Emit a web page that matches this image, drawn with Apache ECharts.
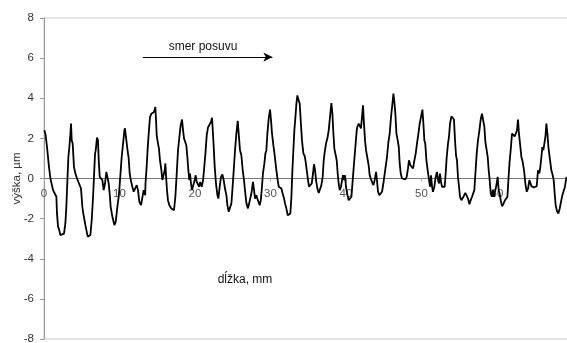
<!DOCTYPE html>
<html>
<head>
<meta charset="utf-8">
<script src="https://cdn.jsdelivr.net/npm/echarts@6/dist/echarts.min.js"></script>
<style>
  html, body { margin: 0; padding: 0; background: #fff; }
  #chart { width: 567px; height: 343px; }
</style>
</head>
<body>
<div id="chart"></div>
<script>
// Surface profile: position along the sample (mm) and measured height (µm)
const distanceMm = [
  0.05, 0.2, 0.4, 0.66, 0.85, 1.0, 1.2, 1.46, 1.64, 1.72, 1.86, 2.0, 2.17, 2.43, 2.65, 2.83, 2.96, 3.1, 3.23, 3.36,
  3.5, 3.58, 3.67, 3.8, 3.97, 4.16, 4.37, 4.64, 4.9, 5.08, 5.2, 5.52, 5.79, 5.96, 6.14, 6.32, 6.5, 6.62, 6.76, 6.85,
  7.02, 7.15, 7.25, 7.38, 7.55, 7.73, 7.9, 8.08, 8.26, 8.44, 8.57, 8.7, 8.83, 9.06, 9.32, 9.5, 9.72, 9.94, 10.1, 10.29,
  10.47, 10.65, 10.72, 10.91, 11.09, 11.2, 11.35, 11.5, 11.7, 11.88, 12.1, 12.28, 12.45, 12.63, 12.85, 13.0, 13.2, 13.4, 13.45, 13.6,
  13.75, 13.9, 14.04, 14.22, 14.4, 14.57, 14.75, 14.84, 14.93, 15.1, 15.23, 15.36, 15.55, 15.68, 15.8, 15.99, 16.08, 16.17, 16.29, 16.42,
  16.6, 16.7, 16.87, 17.1, 17.22, 17.4, 17.58, 17.75, 17.93, 18.1, 18.28, 18.42, 18.55, 18.72, 18.85, 18.99, 19.12, 19.25, 19.34, 19.47,
  19.6, 19.78, 19.96, 20.09, 20.23, 20.36, 20.53, 20.7, 20.89, 21.07, 21.19, 21.38, 21.55, 21.72, 21.95, 22.12, 22.25, 22.34, 22.48, 22.61,
  22.78, 22.97, 23.1, 23.27, 23.45, 23.63, 23.8, 23.97, 24.16, 24.29, 24.46, 24.64, 24.82, 24.95, 25.13, 25.3, 25.48, 25.66, 25.79, 25.96,
  26.14, 26.32, 26.49, 26.62, 26.81, 27.02, 27.2, 27.47, 27.68, 27.82, 27.95, 28.13, 28.25, 28.44, 28.57, 28.72, 28.87, 29.0, 29.19, 29.32,
  29.45, 29.59, 29.76, 29.94, 30.07, 30.2, 30.38, 30.5, 30.63, 30.78, 30.95, 31.09, 31.26, 31.44, 31.61, 31.8, 31.92, 32.1, 32.28, 32.45,
  32.63, 32.77, 32.9, 33.03, 33.16, 33.3, 33.43, 33.56, 33.73, 33.87, 34.0, 34.17, 34.36, 34.53, 34.66, 34.8, 34.97, 35.1, 35.28, 35.46,
  35.63, 35.76, 35.9, 36.03, 36.21, 36.39, 36.57, 36.74, 36.91, 37.05, 37.18, 37.35, 37.53, 37.71, 37.88, 38.06, 38.2, 38.33, 38.46, 38.64,
  38.77, 38.9, 39.03, 39.17, 39.34, 39.48, 39.6, 39.74, 39.87, 40.0, 40.19, 40.36, 40.53, 40.72, 40.89, 41.06, 41.24, 41.42, 41.5, 41.68,
  41.85, 41.98, 42.12, 42.25, 42.38, 42.52, 42.65, 42.83, 43.0, 43.14, 43.27, 43.45, 43.63, 43.8, 43.98, 44.1, 44.24, 44.42, 44.6, 44.77,
  44.95, 45.13, 45.3, 45.43, 45.62, 45.79, 45.96, 46.15, 46.28, 46.41, 46.54, 46.68, 46.85, 46.99, 47.11, 47.25, 47.42, 47.64, 47.86, 48.04,
  48.21, 48.34, 48.53, 48.7, 48.88, 49.06, 49.23, 49.4, 49.59, 49.76, 49.93, 50.12, 50.25, 50.38, 50.5, 50.65, 50.82, 51.0, 51.13, 51.26,
  51.4, 51.52, 51.7, 51.88, 52.05, 52.19, 52.32, 52.45, 52.58, 52.72, 52.9, 53.07, 53.2, 53.34, 53.51, 53.64, 53.78, 53.96, 54.13, 54.3,
  54.44, 54.57, 54.7, 54.83, 54.97, 55.1, 55.28, 55.5, 55.81, 55.99, 56.16, 56.34, 56.52, 56.69, 56.87, 57.0, 57.14, 57.31, 57.48, 57.67,
  57.84, 58.01, 58.2, 58.33, 58.46, 58.63, 58.77, 58.9, 59.03, 59.17, 59.34, 59.47, 59.6, 59.78, 59.92, 60.09, 60.22, 60.35, 60.49, 60.66,
  60.84, 61.02, 61.19, 61.38, 61.51, 61.65, 61.81, 61.99, 62.17, 62.34, 62.52, 62.65, 62.78, 62.91, 63.05, 63.23, 63.4, 63.58, 63.76, 63.93,
  64.11, 64.29, 64.42, 64.56, 64.73, 64.9, 65.08, 65.26, 65.43, 65.61, 65.74, 65.88, 66.01, 66.14, 66.28, 66.41, 66.54, 66.68, 66.81, 66.94,
  67.07, 67.2, 67.38, 67.51, 67.64, 67.77, 67.95, 68.13, 68.31, 68.48, 68.66, 68.84, 69.0, 69.2
];

const heightUm = [
  2.4, 2.2, 1.57, 0.58, 0, -0.25, -0.58, -0.6, -0.91, -1.74, -2.4, -2.55, -2.82, -2.87, -2.75, -2.24, -1.41, -0.08, 1.07, 1.57,
  2.24, 2.74, 1.9, 1.74, 0.58, 0.25, 0, -0.25, -0.5, -1.41, -1.74, -2.4, -2.9, -2.99, -2.82, -2.07, -0.91, 0.08, 1.24, 1.4,
  2.04, 1.9, 0.91, 0.08, 0, -0.08, -0.58, -0.25, 0.33, 0.35, -0.25, -0.75, -1.41, -1.91, -2.32, -2.16, -1.41, -0.75, 0.08, 1.07,
  1.74, 2.4, 2.5, 1.9, 1.32, 1.07, 0.25, -0.08, -0.41, -0.66, -0.66, -0.33, -0.58, -1.16, -1.33, -1.24, -0.58, -0.83, -0.2, 0.6,
  1.6, 2.4, 3.06, 3.23, 3.15, 3.31, 3.56, 2.9, 2.15, 1.74, 1.49, 0.91, 0.41, -0.08, 0, 0.41, 0.75, 0.08, -0.58, -1.08,
  -1.33, -1.24, -1.49, -1.49, -1.58, -0.91, 0.25, 1.41, 2.07, 2.65, 2.94, 2.4, 1.99, 1.94, 1.66, 1.07, 0.41, -0.08, 0.25, -0.25,
  -0.58, -0.33, -0.08, 0.16, -0.17, -0.08, -0.41, -0.17, -0.41, -0.08, 0.41, 1.24, 2.15, 2.54, 2.6, 2.82, 3.03, 2.5, 1.57, 0.58,
  -0.25, -0.83, -1.0, -0.41, 0.08, 0.2, -0.08, -0.5, -0.83, -1.33, -1.66, -1.58, -1.24, -0.58, 0.41, 1.41, 2.24, 2.87, 2.24, 1.41,
  1.16, 0.41, -0.08, -0.58, -1.24, -1.49, -1.49, -0.75, -0.17, -0.58, -1.0, -0.83, -1.0, -0.91, -1.33, -1.08, -0.41, 0.25, 0.75, 1.24,
  1.4, 2.24, 2.99, 3.43, 2.9, 2.24, 1.66, 1.32, 1.27, 0.41, -0.08, -0.41, -0.45, -0.5, -0.75, -1.0, -1.24, -1.49, -1.83, -1.91,
  -1.74, -0.91, 0.41, 1.41, 2.4, 3.06, 3.73, 4.14, 3.9, 3.73, 2.9, 1.9, 1.24, 1.12, 0.83, 0.41, -0.08, -0.41, -0.38, -0.25,
  0.25, 0.71, 0.41, -0.08, -0.5, -0.72, -0.66, -0.33, 0.08, 0.91, 1.32, 1.74, 1.99, 2.4, 3.06, 3.76, 3.23, 2.24, 1.49, 1.4,
  0.91, 0.25, -0.25, -0.58, -0.41, -0.08, 0.16, -0.08, 0.16, -0.41, -0.83, -1.08, -1.16, -0.91, -0.08, 0.75, 1.57, 2.4, 2.57, 2.74,
  2.77, 2.5, 3.06, 3.65, 2.74, 1.9, 1.41, 1.32, 0.66, 0.16, 0, -0.17, -0.33, -0.08, 0.33, -0.08, -0.66, -0.83, -0.83, -0.66,
  -0.25, 0.25, 0.33, 1.07, 1.82, 2.24, 3.06, 3.73, 4.23, 3.81, 3.23, 2.24, 1.9, 1.57, 0.75, 0.25, 0, 0, -0.04, 0.08,
  0.5, 0.91, 0.66, 0.58, 0.5, 0.91, 1.24, 1.74, 2.24, 2.74, 3.06, 3.43, 2.74, 1.9, 1.74, 0.91, 0.41, -0.08, -0.41, 0.16,
  -0.41, -0.66, -0.41, 0.08, 0.33, -0.08, -0.25, 0.25, -0.17, -0.41, -0.5, -0.41, 0.25, 1.07, 1.74, 2.07, 2.74, 3.1, 3.06, 2.94,
  1.9, 1.16, 0.91, 0.08, -0.41, -0.91, -1.08, -0.95, -0.72, -0.75, -1.0, -1.28, -1.08, -0.91, -1.0, -0.58, 0.25, 1.24, 1.9, 2.4,
  2.94, 3.23, 3.31, 2.57, 1.82, 1.41, 1.07, 0.41, -0.08, -0.75, -0.91, -0.58, -0.91, -0.58, -0.33, 0.08, -0.58, -0.75, -1.08, -1.38,
  -1.28, -1.11, -1.08, -0.91, -0.08, 0.75, 1.41, 2.24, 2.15, 2.1, 2.27, 2.4, 2.94, 2.24, 1.74, 1.07, 0.83, 0.41, -0.25, -0.66,
  -0.5, -0.08, 0, -0.38, -0.33, -0.45, -0.5, -0.38, 0.41, 0.25, 0.58, 1.07, 1.57, 1.41, 1.49, 2.07, 2.74, 2.24, 1.57, 1.16,
  1.07, 0.41, 0.16, -0.08, -0.75, -1.33, -1.63, -1.74, -1.49, -1.16, -0.83, -0.75, -0.41, 0.08
];

// Distance labels printed along the zero line (the axis runs on to 70 mm off the right edge)
const distanceTicks = [0, 10, 20, 30, 40, 50, 60];

const profile = distanceMm.map((x, i) => [x, heightUm[i]]);

const fontFamily = '"Liberation Sans", Arial, sans-serif';

// Plot box in pixels; the distance axis is lifted from the bottom edge to the zero line
const GRID_TOP = 18;
const GRID_BOTTOM = 4;
const GRID_HEIGHT = 343 - GRID_TOP - GRID_BOTTOM;

const chart = echarts.init(document.getElementById('chart'), null, { renderer: 'canvas' });

chart.setOption({
  animation: false,
  backgroundColor: '#fff',
  textStyle: { fontFamily: fontFamily },
  grid: {
    left: 44,
    top: GRID_TOP,
    right: -5.5,
    bottom: GRID_BOTTOM,
    show: true,
    borderColor: '#c8c8c8',
    borderWidth: 1,
    containLabel: false,
    outerBoundsMode: 'none'
  },
  xAxis: {
    type: 'value',
    min: 0,
    max: 70,
    interval: 10,
    position: 'bottom',
    offset: -GRID_HEIGHT / 2,
    axisLine: { onZero: false, lineStyle: { color: '#7a7a7a', width: 1 } },
    axisTick: { show: true, length: 3, lineStyle: { color: '#aaa' } },
    axisLabel: {
      show: true,
      margin: 9,
      fontSize: 11.5,
      color: '#555',
      fontFamily: fontFamily,
      hideOverlap: false,
      formatter: function (v) { return distanceTicks.indexOf(v) >= 0 ? String(v) : ''; }
    },
    splitLine: { show: false }
  },
  yAxis: {
    type: 'value',
    min: -8,
    max: 8,
    interval: 2,
    name: 'výška, µm',
    nameLocation: 'middle',
    nameGap: 21,
    nameMoveOverlap: false,
    nameTextStyle: { fontSize: 11.5, color: '#333', fontFamily: fontFamily },
    axisLine: { show: true, lineStyle: { color: '#999', width: 1 } },
    axisTick: { show: true, inside: false, length: 4, lineStyle: { color: '#999' } },
    axisLabel: { margin: 10, fontSize: 11.5, color: '#333', fontFamily: fontFamily },
    splitLine: { show: false }
  },
  graphic: [
    {
      type: 'text',
      x: 203, y: 47,
      style: {
        text: 'smer posuvu',
        font: '12px ' + fontFamily,
        fill: '#111',
        textAlign: 'center',
        textVerticalAlign: 'middle'
      }
    },
    {
      type: 'text',
      x: 245, y: 279.5,
      style: {
        text: 'dĺžka, mm',
        font: '12px ' + fontFamily,
        fill: '#111',
        textAlign: 'center',
        textVerticalAlign: 'middle'
      }
    }
  ],
  series: [
    {
      type: 'line',
      data: profile,
      showSymbol: false,
      symbol: 'none',
      smooth: false,
      z: 3,
      lineStyle: { color: '#000', width: 1.8 },
      markLine: {
        silent: true,
        symbol: ['none', 'arrow'],
        symbolSize: [7, 9],
        label: { show: false },
        lineStyle: { color: '#000', width: 1, type: 'solid' },
        data: [
          [ { coord: [13.1, 6.05] }, { coord: [30.25, 6.05] } ]
        ]
      }
    }
  ]
});
</script>
</body>
</html>
